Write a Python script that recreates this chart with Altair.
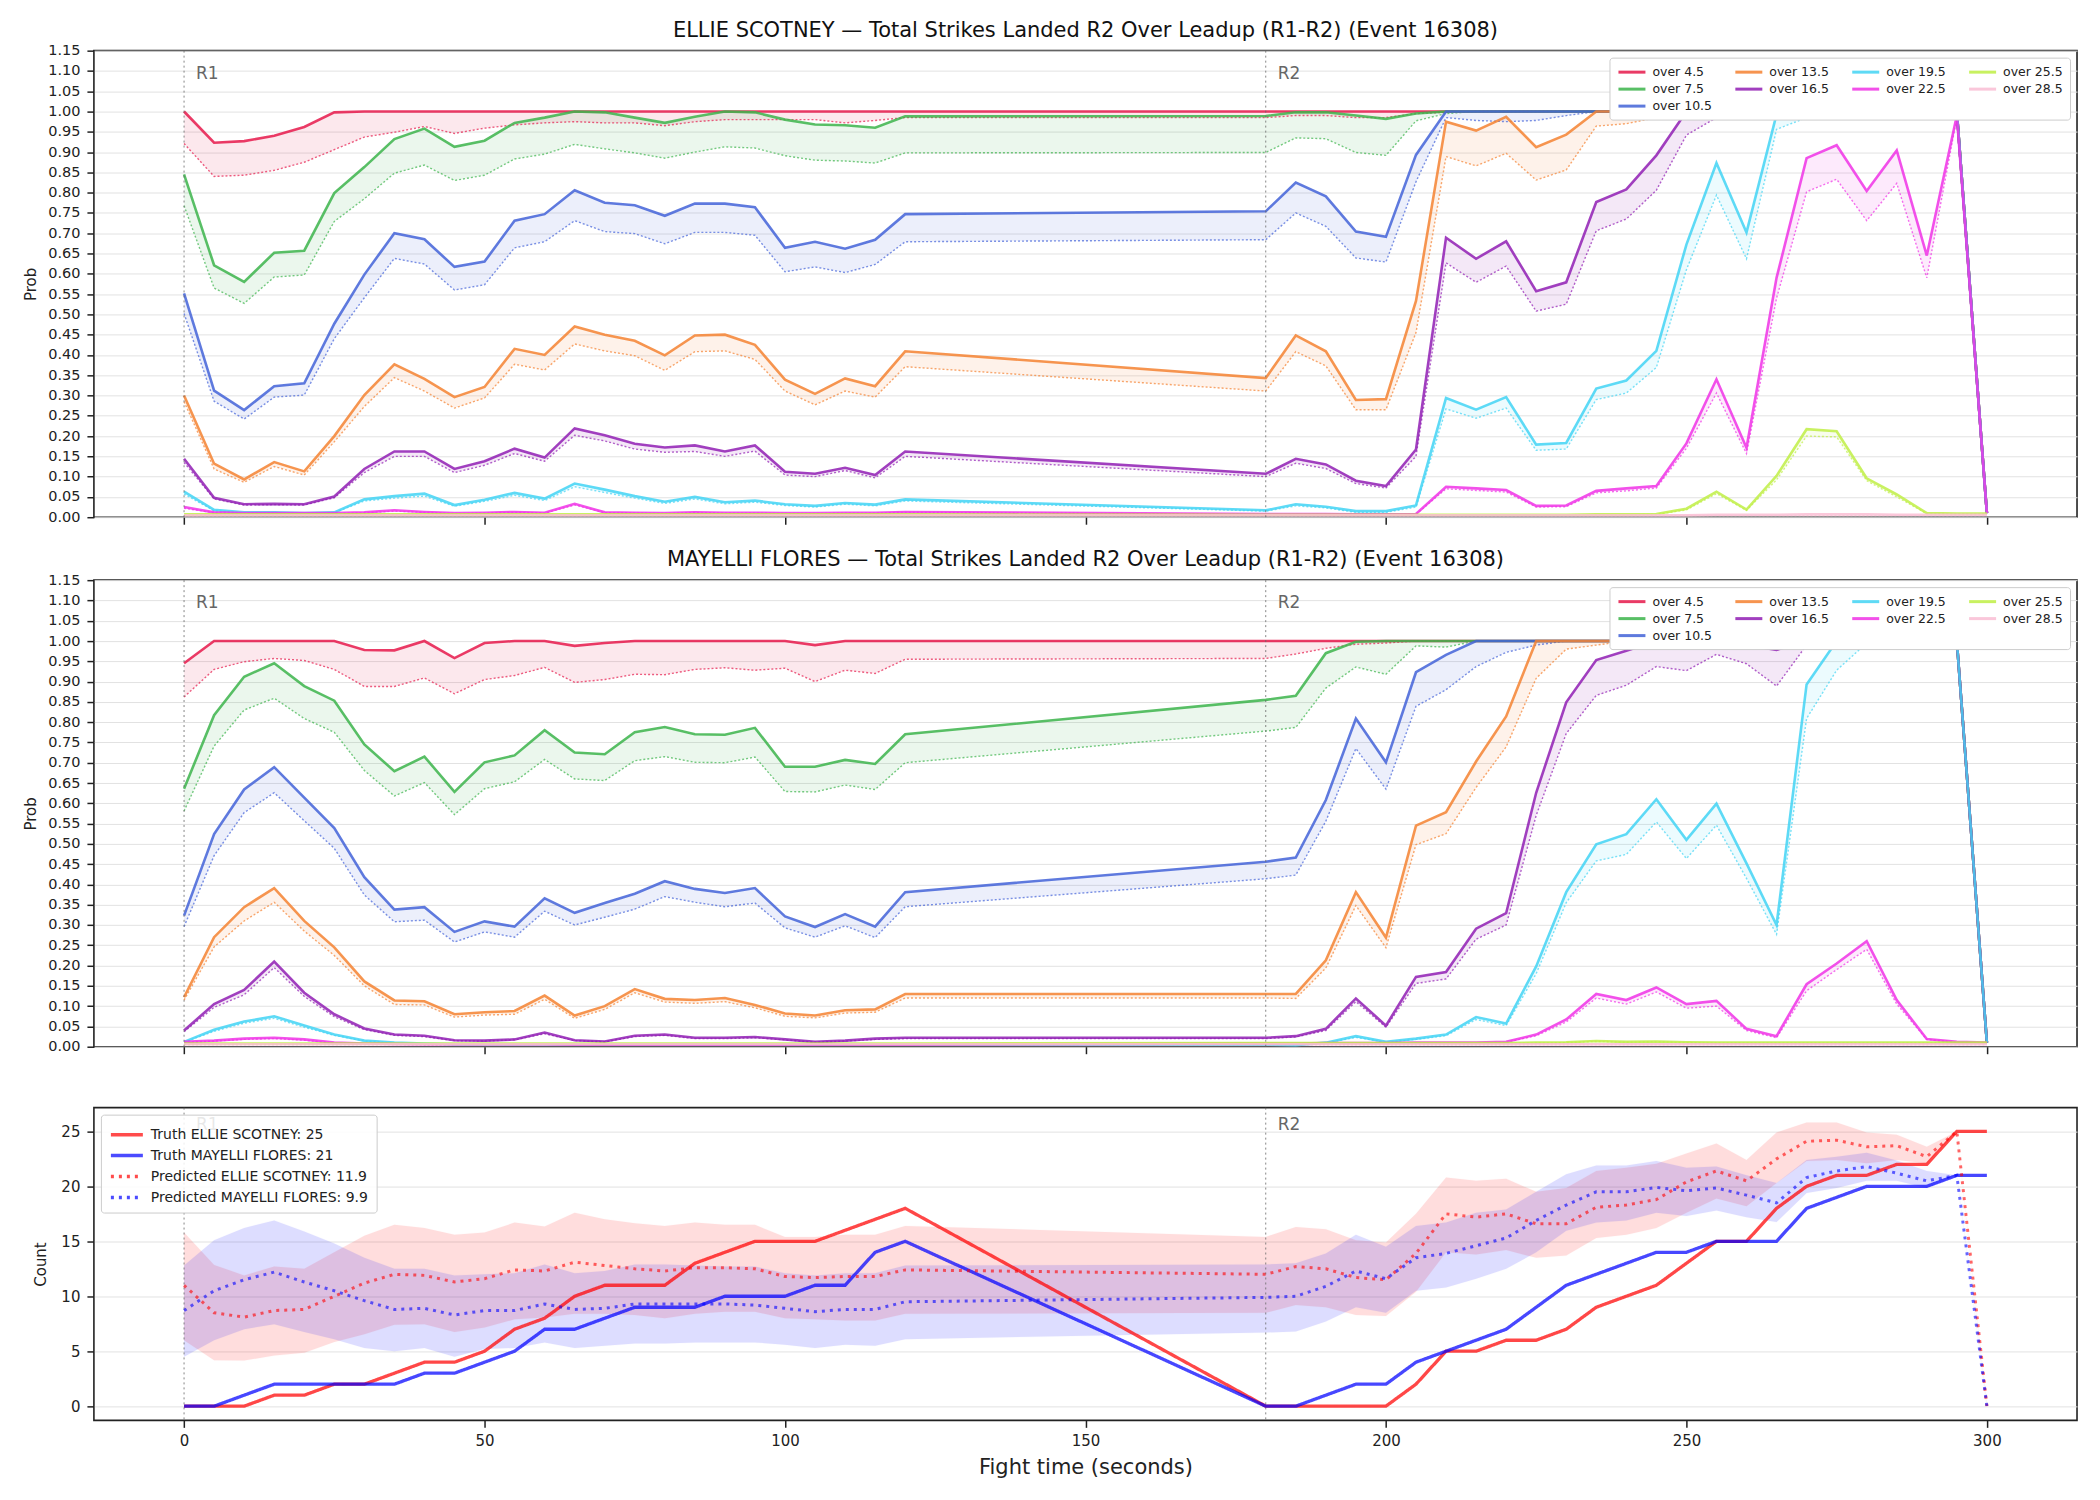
import altair as alt
import pandas as pd

# ---------------- time grid (seconds) ----------------
T = [0, 5, 10, 15, 20, 25, 30, 35, 40, 45, 50, 55, 60, 65, 70, 75, 80, 85, 90, 95, 100, 105, 110, 115, 120,
     180, 185, 190, 195, 200, 205, 210, 215, 220, 225, 230, 235, 240, 245, 250, 255, 260, 265, 270, 275, 280, 285, 290, 295, 300]

THRESH = ["over 4.5", "over 7.5", "over 10.5", "over 13.5", "over 16.5", "over 19.5", "over 22.5", "over 25.5", "over 28.5"]
COLORS = ["#e6194b", "#3cb44b", "#4363d8", "#f58231", "#911eb4", "#42d4f4", "#f032e6", "#bfef45", "#fabed4"]
# legend reading order, row by row (matplotlib fills columns first)
LEG_ROWS = ["over 4.5", "over 13.5", "over 19.5", "over 25.5", "over 7.5", "over 16.5", "over 22.5", "over 28.5", "over 10.5"]

XT = [0, 50, 100, 150, 200, 250, 300]
YT_PROB = [0.00, 0.05, 0.10, 0.15, 0.20, 0.25, 0.30, 0.35, 0.40, 0.45, 0.50, 0.55, 0.60,
           0.65, 0.70, 0.75, 0.80, 0.85, 0.90, 0.95, 1.00, 1.05, 1.10, 1.15]
YT_COUNT = [0, 5, 10, 15, 20, 25]

ROUND_T = [0, 180]
ROUND_LAB = ["R1", "R2"]

# ---------------- ELLIE SCOTNEY: P(over) (solid) and lower (dotted) ----------------
ES_45_P = [1.000,0.923,0.927,0.940,0.962, 0.998,1.000,1.000,1.000,1.000, 1.000,1.000,1.000,1.000,1.000, 1.000,1.000,1.000,1.000,1.000, 1.000,1.000,1.000,1.000,1.000,
           1.000,1.000,1.000,1.000,1.000, 1.000,1.000,1.000,1.000,1.000, 1.000,1.000,1.000,1.000,1.000, 1.000,1.000,1.000,1.000,1.000, 1.000,1.000,1.000,1.000,0.010]
ES_45_L = [0.921,0.840,0.843,0.855,0.875, 0.906,0.937,0.949,0.963,0.946, 0.959,0.967,0.972,0.975,0.972, 0.972,0.965,0.975,0.980,0.980, 0.980,0.980,0.972,0.978,0.985,
           0.985,0.990,0.990,0.985,0.985, 0.995,0.998,1.000,1.000,1.000, 1.000,1.000,1.000,1.000,1.000, 1.000,1.000,1.000,1.000,1.000, 1.000,1.000,1.000,1.000,0.010]
ES_75_P = [0.845,0.621,0.580,0.652,0.657, 0.799,0.863,0.932,0.958,0.913, 0.928,0.972,0.985,1.000,0.998, 0.985,0.972,0.987,1.000,0.998, 0.980,0.968,0.966,0.960,0.988,
           0.989,0.998,0.998,0.990,0.982, 0.995,1.000,1.000,1.000,1.000, 1.000,1.000,1.000,1.000,1.000, 1.000,1.000,1.000,1.000,1.000, 1.000,1.000,1.000,1.000,0.010]
ES_75_L = [0.768,0.565,0.527,0.592,0.597, 0.729,0.785,0.848,0.868,0.830, 0.843,0.883,0.895,0.919,0.908, 0.898,0.885,0.900,0.913,0.910, 0.891,0.880,0.878,0.873,0.898,
           0.899,0.935,0.933,0.899,0.892, 0.977,0.995,1.000,1.000,1.000, 1.000,1.000,1.000,1.000,1.000, 1.000,1.000,1.000,1.000,1.000, 1.000,1.000,1.000,1.000,0.010]
ES_105_P = [0.552,0.312,0.264,0.323,0.330, 0.477,0.598,0.700,0.685,0.617, 0.630,0.731,0.747,0.806,0.775, 0.769,0.743,0.773,0.773,0.764, 0.664,0.679,0.662,0.684,0.747,
            0.754,0.825,0.791,0.704,0.691, 0.893,1.000,1.000,1.000,1.000, 1.000,1.000,1.000,1.000,1.000, 1.000,1.000,1.000,1.000,1.000, 1.000,1.000,1.000,1.000,0.010]
ES_105_L = [0.502,0.286,0.242,0.296,0.301, 0.440,0.541,0.638,0.624,0.560, 0.573,0.664,0.679,0.731,0.704, 0.699,0.674,0.702,0.702,0.695, 0.605,0.617,0.603,0.623,0.679,
            0.684,0.750,0.717,0.639,0.629, 0.827,0.985,0.978,0.975,0.978, 0.990,1.000,1.000,1.000,1.000, 1.000,1.000,1.000,1.000,1.000, 1.000,1.000,1.000,1.000,0.010]
ES_135_P = [0.300,0.132,0.093,0.136,0.113, 0.200,0.301,0.377,0.341,0.296, 0.321,0.415,0.400,0.470,0.450, 0.435,0.399,0.448,0.450,0.425, 0.339,0.304,0.342,0.323,0.409,
            0.343,0.448,0.409,0.289,0.291, 0.533,0.975,0.953,0.987,0.912, 0.943,1.000,1.000,1.000,1.000, 1.000,1.000,1.000,1.000,1.000, 1.000,1.000,1.000,1.000,0.010]
ES_135_L = [0.285,0.119,0.086,0.125,0.104, 0.186,0.273,0.344,0.311,0.269, 0.294,0.377,0.363,0.427,0.410, 0.398,0.362,0.408,0.410,0.389, 0.311,0.277,0.311,0.296,0.371,
            0.311,0.408,0.373,0.265,0.265, 0.455,0.889,0.866,0.897,0.831, 0.856,0.964,0.970,0.985,0.995, 1.000,1.000,1.000,1.000,1.000, 1.000,1.000,1.000,1.000,0.010]
ES_165_P = [0.144,0.048,0.032,0.033,0.032, 0.051,0.119,0.162,0.162,0.119, 0.138,0.169,0.147,0.219,0.202, 0.181,0.172,0.177,0.162,0.177, 0.112,0.107,0.122,0.104,0.162,
            0.107,0.144,0.130,0.090,0.077, 0.167,0.689,0.637,0.680,0.557, 0.579,0.777,0.808,0.892,1.000, 1.000,0.995,1.000,1.000,1.000, 1.000,1.000,1.000,1.000,0.010]
ES_165_L = [0.135,0.045,0.030,0.031,0.030, 0.048,0.110,0.150,0.150,0.110, 0.128,0.157,0.138,0.202,0.188, 0.168,0.160,0.162,0.150,0.163, 0.104,0.100,0.115,0.097,0.150,
            0.100,0.133,0.120,0.083,0.072, 0.150,0.627,0.579,0.619,0.508, 0.525,0.706,0.735,0.806,0.942, 0.985,0.981,1.000,1.000,1.000, 1.000,1.000,1.000,1.000,0.010]
ES_195_P = [0.063,0.018,0.012,0.012,0.010, 0.012,0.044,0.052,0.058,0.030, 0.043,0.060,0.046,0.083,0.068, 0.052,0.038,0.050,0.037,0.041, 0.032,0.028,0.035,0.031,0.044,
            0.017,0.032,0.026,0.015,0.015, 0.029,0.294,0.265,0.296,0.179, 0.183,0.317,0.337,0.410,0.672, 0.873,0.702,0.993,1.000,1.000, 1.000,1.000,1.000,1.000,0.010]
ES_195_L = [0.057,0.016,0.011,0.011,0.009, 0.011,0.040,0.047,0.052,0.027, 0.039,0.054,0.041,0.075,0.061, 0.047,0.034,0.045,0.033,0.037, 0.029,0.025,0.032,0.028,0.040,
            0.015,0.028,0.023,0.012,0.012, 0.025,0.267,0.244,0.269,0.165, 0.168,0.290,0.306,0.369,0.610, 0.794,0.637,0.956,0.985,1.000, 1.000,1.000,1.000,1.000,0.010]
ES_225_P = [0.025,0.012,0.010,0.010,0.010, 0.010,0.012,0.017,0.013,0.010, 0.011,0.013,0.011,0.033,0.012, 0.011,0.010,0.012,0.011,0.011, 0.010,0.010,0.011,0.011,0.013,
            0.008,0.008,0.008,0.007,0.007, 0.008,0.075,0.071,0.067,0.028, 0.029,0.065,0.071,0.077,0.182, 0.340,0.171,0.590,0.885,0.917, 0.804,0.904,0.645,0.990,0.010]
ES_225_L = [0.022,0.011,0.009,0.009,0.009, 0.009,0.011,0.015,0.012,0.009, 0.010,0.012,0.010,0.030,0.011, 0.010,0.009,0.011,0.010,0.010, 0.009,0.009,0.010,0.010,0.012,
            0.007,0.007,0.007,0.006,0.006, 0.007,0.070,0.066,0.062,0.025, 0.026,0.060,0.065,0.072,0.170, 0.306,0.157,0.540,0.802,0.833, 0.731,0.823,0.590,0.985,0.010]
ES_255_P = [0.007,0.007,0.007,0.007,0.007, 0.007,0.007,0.007,0.007,0.007, 0.007,0.007,0.007,0.007,0.007, 0.007,0.007,0.007,0.007,0.007, 0.007,0.007,0.007,0.007,0.007,
            0.006,0.006,0.006,0.006,0.006, 0.006,0.006,0.006,0.006,0.006, 0.006,0.007,0.007,0.008,0.021, 0.063,0.019,0.102,0.217,0.212, 0.096,0.056,0.010,0.009,0.009]
ES_255_L = [0.006,0.006,0.006,0.006,0.006, 0.006,0.006,0.006,0.006,0.006, 0.006,0.006,0.006,0.006,0.006, 0.006,0.006,0.006,0.006,0.006, 0.006,0.006,0.006,0.006,0.006,
            0.005,0.005,0.005,0.005,0.005, 0.005,0.005,0.005,0.005,0.005, 0.005,0.006,0.006,0.007,0.018, 0.058,0.017,0.092,0.200,0.198, 0.090,0.050,0.009,0.008,0.008]
ES_285_P = [0.005,0.005,0.005,0.005,0.005, 0.005,0.005,0.005,0.005,0.005, 0.005,0.005,0.005,0.005,0.005, 0.005,0.005,0.005,0.005,0.005, 0.005,0.005,0.005,0.005,0.005,
            0.005,0.005,0.005,0.005,0.005, 0.005,0.005,0.005,0.005,0.005, 0.005,0.005,0.005,0.005,0.005, 0.006,0.006,0.006,0.007,0.007, 0.007,0.006,0.006,0.006,0.006]
ES_285_L = [0.004,0.004,0.004,0.004,0.004, 0.004,0.004,0.004,0.004,0.004, 0.004,0.004,0.004,0.004,0.004, 0.004,0.004,0.004,0.004,0.004, 0.004,0.004,0.004,0.004,0.004,
            0.004,0.004,0.004,0.004,0.004, 0.004,0.004,0.004,0.004,0.004, 0.004,0.004,0.004,0.004,0.004, 0.004,0.004,0.004,0.004,0.004, 0.004,0.004,0.004,0.004,0.004]

# ---------------- MAYELLI FLORES ----------------
MF_45_P = [0.945,1.000,1.000,1.000,1.000, 1.000,0.978,0.977,1.000,0.958, 0.995,1.000,1.000,0.988,0.995, 1.000,1.000,1.000,1.000,1.000, 1.000,0.990,1.000,1.000,1.000,
           1.000,1.000,1.000,1.000,1.000, 1.000,1.000,1.000,1.000,1.000, 1.000,1.000,1.000,1.000,1.000, 1.000,1.000,1.000,1.000,1.000, 1.000,1.000,1.000,1.000,0.010]
MF_45_L = [0.862,0.930,0.949,0.957,0.952, 0.930,0.888,0.888,0.909,0.870, 0.905,0.915,0.935,0.898,0.905, 0.918,0.917,0.930,0.934,0.928, 0.933,0.900,0.928,0.920,0.955,
           0.957,0.968,0.982,0.992,0.995, 1.000,1.000,1.000,1.000,1.000, 1.000,1.000,1.000,1.000,1.000, 1.000,1.000,1.000,1.000,1.000, 1.000,1.000,1.000,1.000,0.010]
MF_75_P = [0.636,0.817,0.912,0.945,0.889, 0.853,0.745,0.679,0.715,0.628, 0.701,0.718,0.780,0.725,0.721, 0.775,0.788,0.770,0.769,0.786, 0.690,0.690,0.707,0.697,0.770,
           0.855,0.865,0.970,0.998,1.000, 1.000,1.000,1.000,1.000,1.000, 1.000,1.000,1.000,1.000,1.000, 1.000,1.000,1.000,1.000,1.000, 1.000,1.000,1.000,1.000,0.010]
MF_75_L = [0.581,0.741,0.830,0.859,0.809, 0.775,0.681,0.618,0.651,0.572, 0.636,0.653,0.708,0.660,0.656, 0.705,0.715,0.701,0.700,0.714, 0.629,0.628,0.645,0.634,0.700,
           0.778,0.787,0.884,0.936,0.918, 0.988,0.985,1.000,1.000,1.000, 1.000,1.000,1.000,1.000,1.000, 1.000,1.000,1.000,1.000,1.000, 1.000,1.000,1.000,1.000,0.010]
MF_105_P = [0.323,0.524,0.634,0.689,0.614, 0.539,0.418,0.338,0.344,0.283, 0.309,0.296,0.366,0.330,0.354, 0.377,0.408,0.389,0.379,0.391, 0.321,0.295,0.327,0.296,0.381,
            0.456,0.466,0.608,0.809,0.701, 0.923,0.966,1.000,1.000,1.000, 1.000,1.000,1.000,1.000,1.000, 1.000,1.000,1.000,1.000,1.000, 1.000,1.000,1.000,1.000,0.010]
MF_105_L = [0.296,0.471,0.577,0.626,0.557, 0.489,0.374,0.308,0.312,0.258, 0.283,0.270,0.334,0.300,0.319, 0.339,0.370,0.356,0.345,0.354, 0.293,0.270,0.298,0.269,0.345,
            0.414,0.423,0.556,0.735,0.635, 0.839,0.880,0.937,0.972,0.990, 1.000,1.000,1.000,1.000,1.000, 1.000,1.000,1.000,1.000,1.000, 1.000,1.000,1.000,1.000,0.010]
MF_135_P = [0.122,0.270,0.344,0.391,0.310, 0.245,0.161,0.114,0.112,0.080, 0.085,0.088,0.126,0.077,0.100, 0.142,0.118,0.115,0.120,0.103, 0.082,0.077,0.090,0.092,0.130,
            0.130,0.130,0.213,0.381,0.269, 0.545,0.578,0.703,0.814,1.000, 1.000,1.000,1.000,1.000,1.000, 1.000,1.000,1.000,1.000,1.000, 1.000,1.000,1.000,1.000,0.010]
MF_135_L = [0.115,0.246,0.310,0.356,0.285, 0.225,0.150,0.104,0.103,0.073, 0.078,0.080,0.117,0.070,0.092, 0.133,0.110,0.107,0.111,0.096, 0.075,0.071,0.083,0.085,0.120,
            0.120,0.119,0.194,0.348,0.244, 0.498,0.525,0.639,0.739,0.908, 0.980,0.990,1.000,1.000,1.000, 1.000,1.000,1.000,1.000,1.000, 1.000,1.000,1.000,1.000,0.010]
MF_165_P = [0.040,0.105,0.140,0.210,0.133, 0.080,0.045,0.030,0.027,0.016, 0.015,0.018,0.035,0.016,0.013, 0.027,0.030,0.022,0.022,0.024, 0.018,0.012,0.015,0.020,0.022,
            0.022,0.026,0.044,0.119,0.052, 0.172,0.184,0.291,0.329,0.626, 0.849,0.953,0.976,1.000,1.000, 1.000,0.990,0.978,1.000,1.000, 1.000,1.000,1.000,1.000,0.010]
MF_165_L = [0.037,0.097,0.128,0.195,0.124, 0.074,0.042,0.028,0.025,0.015, 0.014,0.017,0.032,0.015,0.012, 0.025,0.028,0.020,0.020,0.022, 0.017,0.011,0.014,0.018,0.020,
            0.020,0.024,0.040,0.111,0.048, 0.156,0.167,0.265,0.300,0.570, 0.772,0.866,0.891,0.937,0.927, 0.967,0.944,0.889,0.990,1.000, 1.000,1.000,1.000,1.000,0.010]
MF_195_P = [0.012,0.042,0.062,0.075,0.052, 0.030,0.015,0.010,0.008,0.006, 0.006,0.006,0.006,0.005,0.005, 0.005,0.005,0.005,0.005,0.005, 0.005,0.005,0.005,0.005,0.005,
            0.005,0.004,0.010,0.026,0.012, 0.020,0.030,0.073,0.057,0.198, 0.381,0.499,0.524,0.610,0.510, 0.599,0.452,0.300,0.893,1.000, 1.000,1.000,1.000,1.000,0.010]
MF_195_L = [0.011,0.038,0.058,0.070,0.048, 0.028,0.014,0.009,0.007,0.005, 0.005,0.005,0.005,0.004,0.004, 0.004,0.004,0.004,0.004,0.004, 0.004,0.004,0.004,0.004,0.004,
            0.004,0.004,0.009,0.023,0.011, 0.018,0.027,0.067,0.052,0.180, 0.355,0.458,0.474,0.554,0.464, 0.546,0.415,0.277,0.809,0.928, 0.995,1.000,1.000,1.000,0.010]
MF_225_P = [0.012,0.015,0.020,0.022,0.018, 0.010,0.008,0.007,0.006,0.006, 0.006,0.006,0.006,0.005,0.005, 0.005,0.005,0.005,0.005,0.005, 0.005,0.005,0.005,0.005,0.005,
            0.008,0.008,0.009,0.009,0.009, 0.010,0.010,0.010,0.012,0.030, 0.067,0.130,0.115,0.146,0.105, 0.113,0.044,0.026,0.154,0.205, 0.260,0.115,0.019,0.012,0.010]
MF_225_L = [0.011,0.014,0.018,0.020,0.016, 0.009,0.007,0.006,0.005,0.005, 0.005,0.005,0.005,0.005,0.005, 0.005,0.005,0.005,0.005,0.005, 0.005,0.005,0.005,0.005,0.005,
            0.007,0.007,0.008,0.008,0.008, 0.009,0.009,0.009,0.011,0.027, 0.061,0.120,0.105,0.135,0.095, 0.100,0.040,0.022,0.138,0.190, 0.240,0.105,0.018,0.011,0.009]
MF_255_P = [0.008,0.008,0.008,0.008,0.008, 0.008,0.008,0.008,0.008,0.008, 0.008,0.008,0.008,0.008,0.008, 0.008,0.008,0.008,0.008,0.008, 0.008,0.008,0.008,0.008,0.008,
            0.009,0.009,0.009,0.009,0.009, 0.009,0.009,0.009,0.009,0.010, 0.011,0.014,0.012,0.013,0.011, 0.010,0.010,0.010,0.010,0.010, 0.010,0.010,0.010,0.010,0.010]
MF_255_L = [0.007,0.007,0.007,0.007,0.007, 0.007,0.007,0.007,0.007,0.007, 0.007,0.007,0.007,0.007,0.007, 0.007,0.007,0.007,0.007,0.007, 0.007,0.007,0.007,0.007,0.007,
            0.008,0.008,0.008,0.008,0.008, 0.008,0.008,0.008,0.008,0.009, 0.010,0.013,0.011,0.012,0.010, 0.009,0.009,0.009,0.009,0.009, 0.009,0.009,0.009,0.009,0.009]
MF_285_P = [0.006,0.006,0.006,0.006,0.006, 0.006,0.006,0.006,0.006,0.006, 0.006,0.006,0.006,0.006,0.006, 0.006,0.006,0.006,0.006,0.006, 0.006,0.006,0.006,0.006,0.006,
            0.006,0.006,0.006,0.006,0.006, 0.006,0.006,0.006,0.006,0.006, 0.006,0.006,0.006,0.006,0.006, 0.006,0.006,0.006,0.006,0.006, 0.006,0.006,0.006,0.006,0.006]
MF_285_L = [0.005,0.005,0.005,0.005,0.005, 0.005,0.005,0.005,0.005,0.005, 0.005,0.005,0.005,0.005,0.005, 0.005,0.005,0.005,0.005,0.005, 0.005,0.005,0.005,0.005,0.005,
            0.005,0.005,0.005,0.005,0.005, 0.005,0.005,0.005,0.005,0.005, 0.005,0.005,0.005,0.005,0.005, 0.005,0.005,0.005,0.005,0.005, 0.005,0.005,0.005,0.005,0.005]

# ---------------- counts panel ----------------
TRUTH_ES = [0, 0, 0, 1, 1, 2, 2, 3, 4, 4, 5, 7, 8, 10, 11, 11, 11, 13, 14, 15, 15, 15, 16, 17, 18,
            0, 0, 0, 0, 0, 2, 5, 5, 6, 6, 7, 9, 10, 11, 13, 15, 15, 18, 20, 21, 21, 22, 22, 25, 25]
TRUTH_MF = [0, 0, 1, 2, 2, 2, 2, 2, 3, 3, 4, 5, 7, 7, 8, 9, 9, 9, 10, 10, 10, 11, 11, 14, 15,
            0, 0, 1, 2, 2, 4, 5, 6, 7, 9, 11, 12, 13, 14, 14, 15, 15, 15, 18, 19, 20, 20, 20, 21, 21]
PRED_ES = [11.0, 8.5, 8.1, 8.7, 8.8, 10.0, 11.2, 12.0, 11.9, 11.3, 11.6, 12.4, 12.3, 13.1, 12.8, 12.5, 12.3, 12.6, 12.6, 12.5, 11.8, 11.7, 11.8, 11.8, 12.4,
           12.0, 12.7, 12.5, 11.7, 11.5, 13.9, 17.5, 17.2, 17.5, 16.6, 16.6, 18.1, 18.3, 18.8, 20.4, 21.4, 20.5, 22.5, 24.1, 24.2, 23.6, 23.7, 22.7, 25.0, 0.0]
PRED_MF = [8.7, 10.5, 11.5, 12.2, 11.3, 10.5, 9.6, 8.8, 8.9, 8.3, 8.7, 8.7, 9.3, 8.8, 8.9, 9.3, 9.3, 9.3, 9.3, 9.2, 8.9, 8.6, 8.8, 8.8, 9.5,
           9.9, 10.0, 10.9, 12.3, 11.6, 13.5, 13.9, 14.6, 15.3, 16.9, 18.3, 19.5, 19.5, 19.9, 19.6, 19.85, 19.2, 18.5, 20.8, 21.4, 21.8, 21.2, 20.5, 21.0, 0.0]
BAND_ES_HI = [15.8, 12.85, 11.9, 12.7, 12.5, 14.0, 15.5, 16.5, 16.2, 15.6, 15.8, 16.7, 16.35, 17.6, 17.0, 16.65, 16.4, 16.7, 16.5, 16.5, 15.4, 15.4, 15.6, 15.6, 16.4,
              15.4, 16.3, 16.1, 15.1, 14.9, 17.5, 20.8, 20.5, 20.7, 19.5, 19.85, 21.4, 21.7, 22.05, 23.0, 23.9, 22.4, 24.9, 25.8, 25.8, 24.9, 24.7, 23.6, 25.0, 0.0]
BAND_ES_LO = [6.0, 4.17, 4.15, 4.6, 4.85, 5.85, 6.55, 7.4, 7.46, 6.76, 7.15, 7.9, 8.07, 8.4, 8.4, 8.3, 8.0, 8.4, 8.6, 8.6, 8.0, 7.9, 7.8, 7.8, 8.4,
              8.5, 9.2, 9.0, 8.3, 8.2, 10.4, 14.0, 13.8, 14.2, 13.5, 13.7, 15.3, 15.6, 16.2, 17.6, 18.9, 18.2, 20.3, 22.3, 22.4, 22.1, 22.4, 22.1, 25.0, 0.0]
BAND_MF_HI = [12.8, 15.1, 16.2, 16.9, 15.9, 14.8, 13.5, 12.5, 12.5, 11.9, 12.0, 12.1, 12.9, 12.1, 12.3, 12.9, 12.9, 12.8, 12.7, 12.7, 12.1, 11.9, 12.1, 12.1, 12.8,
              12.9, 13.0, 13.9, 15.6, 14.5, 16.4, 16.7, 17.6, 17.9, 19.5, 21.1, 21.9, 21.9, 22.3, 21.7, 21.8, 21.0, 20.3, 22.4, 22.7, 23.05, 22.35, 21.4, 21.0, 0.0]
BAND_MF_LO = [4.5, 6.0, 7.0, 7.46, 6.76, 6.1, 5.3, 5.0, 5.3, 4.5, 5.2, 5.3, 5.8, 5.3, 5.5, 5.7, 5.7, 5.8, 5.8, 5.8, 5.6, 5.3, 5.6, 5.5, 6.1,
              6.7, 6.8, 7.7, 9.0, 8.5, 10.5, 10.8, 11.6, 12.5, 14.0, 15.95, 16.7, 16.9, 17.6, 17.3, 17.8, 17.2, 16.75, 19.4, 19.85, 20.5, 20.5, 19.85, 21.0, 0.0]

LAB = ["Truth ELLIE SCOTNEY: 25", "Truth MAYELLI FLORES: 21",
       "Predicted ELLIE SCOTNEY: 11.9", "Predicted MAYELLI FLORES: 9.9"]

# ---------------- build ----------------
FONT = "DejaVu Sans"
W = 1985
H_PROB = 467
H_CNT = 313

ES_P = [ES_45_P, ES_75_P, ES_105_P, ES_135_P, ES_165_P, ES_195_P, ES_225_P, ES_255_P, ES_285_P]
ES_L = [ES_45_L, ES_75_L, ES_105_L, ES_135_L, ES_165_L, ES_195_L, ES_225_L, ES_255_L, ES_285_L]
MF_P = [MF_45_P, MF_75_P, MF_105_P, MF_135_P, MF_165_P, MF_195_P, MF_225_P, MF_255_P, MF_285_P]
MF_L = [MF_45_L, MF_75_L, MF_105_L, MF_135_L, MF_165_L, MF_195_L, MF_225_L, MF_255_L, MF_285_L]

for grp in (ES_P, ES_L, MF_P, MF_L):
    for i, arr in enumerate(grp):
        if len(arr) != len(T):
            raise ValueError(f"bad length {len(arr)} at index {i}")

color_of = dict(zip(THRESH, COLORS))
xscale = alt.Scale(domain=[-15, 315], nice=False, zero=False)
rounds_df = pd.DataFrame({"t": ROUND_T, "lab": ROUND_LAB})


def x_enc(show_labels):
    if show_labels:
        ax = alt.Axis(values=XT, title="Fight time (seconds)", grid=False, tickSize=7,
                      labelFontSize=15, labelPadding=6, titleFontSize=21, titlePadding=8)
    else:
        ax = alt.Axis(values=XT, labels=False, title=None, grid=False, tickSize=7)
    return alt.X("t:Q", scale=xscale, axis=ax)


def round_layers(label_y):
    rule = alt.Chart(rounds_df).mark_rule(color="#666666", strokeWidth=1, strokeDash=[2, 3], opacity=0.8).encode(
        x=alt.X("t:Q", scale=xscale))
    txt = alt.Chart(rounds_df).mark_text(align="left", baseline="middle", dx=12, fontSize=17, font=FONT,
                                         color="#666666").encode(
        x=alt.X("t:Q", scale=xscale), y=alt.value(label_y), text="lab:N")
    return rule, txt


def prob_panel(P, L, title):
    rows = []
    for s, pv, lv in zip(THRESH, P, L):
        for t, p, l in zip(T, pv, lv):
            rows.append({"t": t, "series": s, "p": p, "lo": l})
    df = pd.DataFrame(rows)
    cscale = alt.Scale(domain=LEG_ROWS, range=[color_of[s] for s in LEG_ROWS])
    ysc = alt.Scale(domain=[0, 1.15], nice=False, zero=False)
    yax = alt.Axis(values=YT_PROB, format=".2f", title="Prob", tickSize=7, labelPadding=7,
                   labelFontSize=14.5, titleFontSize=15, titlePadding=9)
    leg = alt.Legend(
        title=None, orient="top-right", columns=4, direction="horizontal", symbolType="M-2.25,0L2.25,0",
        symbolStrokeWidth=3, symbolSize=144, symbolFillColor="transparent", symbolOffset=8,
        labelOffset=13, labelFontSize=12.5, labelFont=FONT, labelColor="#222222", fillColor="white",
        strokeColor="#cccccc", padding=7, offset=7, columnPadding=17, rowPadding=3, cornerRadius=3,
        symbolOpacity=0.85)
    color = alt.Color("series:N", scale=cscale, legend=leg)
    base = alt.Chart(df)
    area = base.mark_area(opacity=0.1).encode(
        x=x_enc(False), y=alt.Y("lo:Q", scale=ysc, axis=yax, stack=None), y2="p:Q", color=color)
    dotted = base.mark_line(strokeWidth=1.4, strokeDash=[2, 2], opacity=0.7).encode(
        x=x_enc(False), y=alt.Y("lo:Q", scale=ysc, axis=yax), color=color)
    solid = base.mark_line(strokeWidth=2.6, opacity=0.85).encode(
        x=x_enc(False), y=alt.Y("p:Q", scale=ysc, axis=yax), color=color)
    rule, txt = round_layers(23)
    return alt.layer(area, dotted, solid, rule, txt).properties(
        width=W, height=H_PROB,
        title=alt.Title(title, fontSize=21, fontWeight="normal", font=FONT, offset=2, anchor="middle",
                        color="#111111"))


p1 = prob_panel(ES_P, ES_L, "ELLIE SCOTNEY \u2014 Total Strikes Landed R2 Over Leadup (R1-R2) (Event 16308)")
p2 = prob_panel(MF_P, MF_L, "MAYELLI FLORES \u2014 Total Strikes Landed R2 Over Leadup (R1-R2) (Event 16308)")

# counts panel
lines_df = pd.DataFrame({
    "t": T * 4,
    "v": TRUTH_ES + TRUTH_MF + PRED_ES + PRED_MF,
    "label": [LAB[0]] * len(T) + [LAB[1]] * len(T) + [LAB[2]] * len(T) + [LAB[3]] * len(T),
})
truth_df = lines_df[lines_df["label"].str.startswith("Truth")]
pred_df = lines_df[lines_df["label"].str.startswith("Predicted")]
band_es = pd.DataFrame({"t": T, "lo": BAND_ES_LO, "hi": BAND_ES_HI})
band_mf = pd.DataFrame({"t": T, "lo": BAND_MF_LO, "hi": BAND_MF_HI})

ysc_c = alt.Scale(domain=[-1.29, 27.16], nice=False, zero=False)
yax_c = alt.Axis(values=YT_COUNT, title="Count", tickSize=7, labelPadding=7,
                 labelFontSize=15, titleFontSize=15, titlePadding=12)
lab_color = alt.Scale(domain=LAB, range=["#ff0000", "#0000ff", "#ff0000", "#0000ff"])
lab_dash = alt.Scale(domain=LAB, range=[[1, 0], [1, 0], [3, 5], [3, 5]])
leg3 = alt.Legend(title=None, orient="top-left", symbolType="M-1.6,0L1.6,0", symbolStrokeWidth=3.5, symbolSize=400,
                  symbolFillColor="transparent", symbolOffset=6, labelOffset=12, labelFontSize=14,
                  labelFont=FONT, labelColor="#222222", labelLimit=500, fillColor="rgba(255,255,255,0.85)",
                  strokeColor="#cccccc", padding=8, offset=7, rowPadding=2, cornerRadius=3, symbolOpacity=0.7)

band_es_l = alt.Chart(band_es).mark_area(color="#ff0000", opacity=0.13, stroke="#ff0000",
                                         strokeOpacity=0.12, strokeWidth=1).encode(
    x=x_enc(True), y=alt.Y("lo:Q", scale=ysc_c, axis=yax_c, stack=None), y2="hi:Q")
band_mf_l = alt.Chart(band_mf).mark_area(color="#0000ff", opacity=0.13, stroke="#0000ff",
                                         strokeOpacity=0.12, strokeWidth=1).encode(
    x=x_enc(True), y=alt.Y("lo:Q", scale=ysc_c, axis=yax_c, stack=None), y2="hi:Q")
truth_l = alt.Chart(truth_df).mark_line(strokeWidth=3.3, opacity=0.72).encode(
    x=x_enc(True), y=alt.Y("v:Q", scale=ysc_c, axis=yax_c),
    color=alt.Color("label:N", scale=lab_color, legend=leg3),
    strokeDash=alt.StrokeDash("label:N", scale=lab_dash, legend=leg3))
pred_l = alt.Chart(pred_df).mark_line(strokeWidth=3, opacity=0.6).encode(
    x=x_enc(True), y=alt.Y("v:Q", scale=ysc_c, axis=yax_c),
    color=alt.Color("label:N", scale=lab_color, legend=leg3),
    strokeDash=alt.StrokeDash("label:N", scale=lab_dash, legend=leg3))
rule3, txt3 = round_layers(17)
p3 = alt.layer(band_es_l, band_mf_l, rule3, txt3, truth_l, pred_l).properties(width=W, height=H_CNT)

top = alt.vconcat(p1, p2, spacing=22).resolve_scale(color="independent").resolve_legend(color="independent")
chart = alt.vconcat(top, p3, spacing=50).resolve_scale(
    color="independent", strokeDash="independent").resolve_legend(
    color="independent", strokeDash="independent").properties(
    padding={"left": 22, "top": 18, "right": 22, "bottom": 10}, background="white"
).configure_view(stroke="#222222", strokeWidth=1.6).configure_axis(
    domain=False, tickColor="#222222", tickWidth=1.5, labelColor="#222222", titleColor="#222222",
    labelFont=FONT, titleFont=FONT, titleFontWeight="normal", gridColor="#e2e2e2", gridWidth=1
).configure_axisX(grid=False).configure_axisY(grid=True)

chart.save("out.html", embed_options={"renderer": "svg", "actions": False})
